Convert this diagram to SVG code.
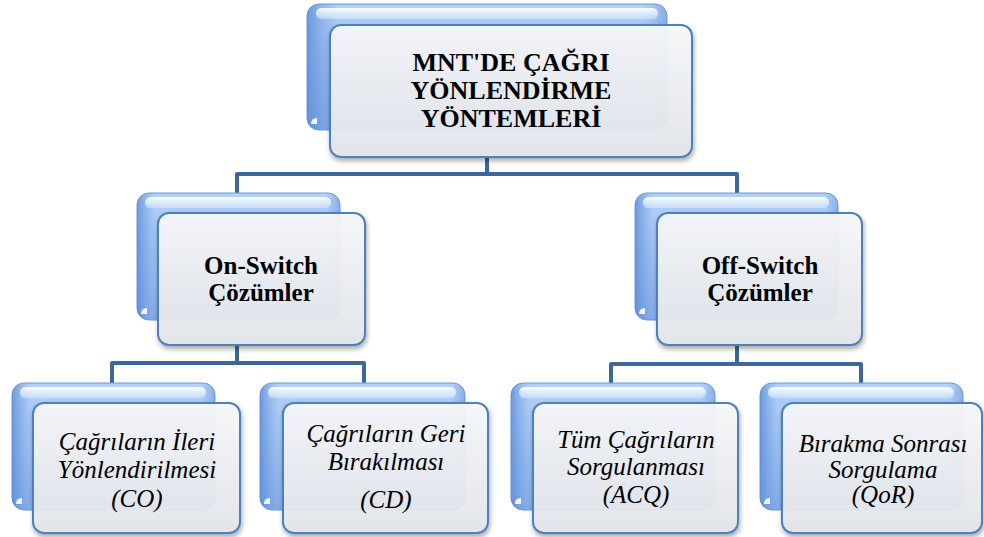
<svg xmlns="http://www.w3.org/2000/svg" width="984" height="537" viewBox="0 0 984 537">
<defs>
<linearGradient id="gBack" x1="0" y1="0" x2="0" y2="1">
<stop offset="0" stop-color="#B4D1F7"/>
<stop offset="0.5" stop-color="#9DBFF1"/>
<stop offset="1" stop-color="#84ACE8"/>
</linearGradient>
<linearGradient id="gSide" x1="0" y1="0" x2="1" y2="0">
<stop offset="0" stop-color="#5787D5" stop-opacity="0.75"/>
<stop offset="0.09" stop-color="#6F9DE2" stop-opacity="0"/>
<stop offset="0.93" stop-color="#6F9DE2" stop-opacity="0"/>
<stop offset="1" stop-color="#5F8FD8" stop-opacity="0.5"/>
</linearGradient>
<linearGradient id="gHi" x1="0" y1="0" x2="0" y2="1">
<stop offset="0" stop-color="#FFFFFF" stop-opacity="0.95"/>
<stop offset="1" stop-color="#D6EBFF" stop-opacity="0.55"/>
</linearGradient>
<linearGradient id="gFront" x1="0" y1="0" x2="0" y2="1">
<stop offset="0" stop-color="#F7F8FA"/>
<stop offset="1" stop-color="#E3E6EB"/>
</linearGradient>
<filter id="sh" x="-10%" y="-10%" width="125%" height="130%">
<feDropShadow dx="1" dy="3" stdDeviation="2.5" flood-color="#000" flood-opacity="0.35"/>
</filter>
</defs>
<style>
.conn{fill:none;stroke:#3B6898;stroke-width:4;stroke-linejoin:round}
.back{fill:url(#gBack);stroke:#6E98D6;stroke-width:1}
.side{fill:url(#gSide)}
.hi{fill:url(#gHi)}
.notch{fill:#FFFFFF;opacity:0.9}
.front{fill:url(#gFront);fill-opacity:0.94;stroke:#4F80BE;stroke-width:2;filter:url(#sh)}
.t{font-family:"Liberation Serif","Times New Roman",serif;fill:#000;text-anchor:middle}
.b{font-weight:bold}
.i{font-style:italic}
</style>
<g id="connectors">
<path class="conn" d="M487,157 V174 M237,193 V174 H737 V193"/>
<path class="conn" d="M237,345 V363 M112,383 V363 H364 V383"/>
<path class="conn" d="M737,345 V364 M611,383 V364 H861 V383"/>
</g>
<g id="n-top">
<rect class="back" x="307" y="4" width="360" height="126" rx="12"/>
<rect class="side" x="307" y="4" width="360" height="126" rx="12"/>
<rect class="hi" x="316" y="8" width="342" height="11" rx="5.5"/>
<path class="notch" d="M311,124 q0,-6 6,-6 v6 z"/>
<rect class="front" x="330" y="25" width="362" height="132" rx="11"/>
<text class="t b" font-size="26"><tspan x="511" y="71">MNT'DE ÇAĞRI</tspan><tspan x="511" y="99">YÖNLENDİRME</tspan><tspan x="511" y="127">YÖNTEMLERİ</tspan></text>
</g>
<g id="n-on">
<rect class="back" x="137" y="193" width="203" height="127" rx="12"/>
<rect class="side" x="137" y="193" width="203" height="127" rx="12"/>
<rect class="hi" x="145" y="197" width="186" height="11" rx="5.5"/>
<path class="notch" d="M141,314 q0,-6 6,-6 v6 z"/>
<rect class="front" x="158" y="213" width="207" height="132" rx="11"/>
<text class="t b" font-size="25"><tspan x="261" y="274">On-Switch</tspan><tspan x="261" y="301">Çözümler</tspan></text>
</g>
<g id="n-off">
<rect class="back" x="635" y="193" width="203" height="127" rx="12"/>
<rect class="side" x="635" y="193" width="203" height="127" rx="12"/>
<rect class="hi" x="643" y="197" width="186" height="11" rx="5.5"/>
<path class="notch" d="M639,314 q0,-6 6,-6 v6 z"/>
<rect class="front" x="657" y="213" width="205" height="132" rx="11"/>
<text class="t b" font-size="25"><tspan x="760" y="274">Off-Switch</tspan><tspan x="760" y="301">Çözümler</tspan></text>
</g>
<g id="n-co">
<rect class="back" x="12" y="383" width="203" height="127" rx="12"/>
<rect class="side" x="12" y="383" width="203" height="127" rx="12"/>
<rect class="hi" x="20" y="387" width="186" height="11" rx="5.5"/>
<path class="notch" d="M16,504 q0,-6 6,-6 v6 z"/>
<rect class="front" x="33" y="403" width="207" height="130" rx="11"/>
<text class="t i" font-size="25"><tspan x="137" y="450">Çağrıların İleri</tspan><tspan x="137" y="478">Yönlendirilmesi</tspan><tspan x="137" y="507">(CO)</tspan></text>
</g>
<g id="n-cd">
<rect class="back" x="260" y="383" width="205" height="127" rx="12"/>
<rect class="side" x="260" y="383" width="205" height="127" rx="12"/>
<rect class="hi" x="268" y="387" width="188" height="11" rx="5.5"/>
<path class="notch" d="M264,504 q0,-6 6,-6 v6 z"/>
<rect class="front" x="283" y="403" width="205" height="130" rx="11"/>
<text class="t i" font-size="25"><tspan x="386" y="442">Çağrıların Geri</tspan><tspan x="386" y="470">Bırakılması</tspan><tspan x="386" y="508">(CD)</tspan></text>
</g>
<g id="n-acq">
<rect class="back" x="511" y="383" width="204" height="127" rx="12"/>
<rect class="side" x="511" y="383" width="204" height="127" rx="12"/>
<rect class="hi" x="519" y="387" width="187" height="11" rx="5.5"/>
<path class="notch" d="M515,504 q0,-6 6,-6 v6 z"/>
<rect class="front" x="533" y="403" width="205" height="130" rx="11"/>
<text class="t i" font-size="25"><tspan x="636" y="448">Tüm Çağrıların</tspan><tspan x="636" y="475">Sorgulanması</tspan><tspan x="636" y="503">(ACQ)</tspan></text>
</g>
<g id="n-qor">
<rect class="back" x="760" y="383" width="203" height="127" rx="12"/>
<rect class="side" x="760" y="383" width="203" height="127" rx="12"/>
<rect class="hi" x="768" y="387" width="186" height="11" rx="5.5"/>
<path class="notch" d="M764,504 q0,-6 6,-6 v6 z"/>
<rect class="front" x="782" y="403" width="200" height="130" rx="11"/>
<text class="t i" font-size="25"><tspan x="883" y="452">Bırakma Sonrası</tspan><tspan x="883" y="478">Sorgulama</tspan><tspan x="883" y="503">(QoR)</tspan></text>
</g>
</svg>
